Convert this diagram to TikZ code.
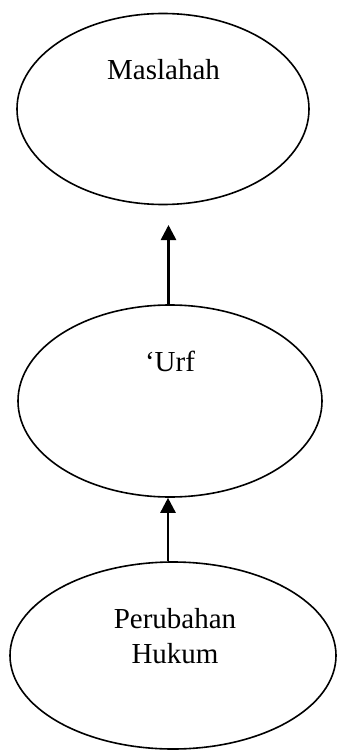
\documentclass[tikz,border=0pt]{standalone}
\usepackage{fontspec}
\setmainfont{Liberation Serif}
\usetikzlibrary{shapes.geometric,arrows.meta}
\begin{document}
\begin{tikzpicture}[x=1pt,y=-1pt,
  oval/.style={draw=black,line width=1.6pt,ellipse,inner sep=0pt},
  lbl/.style={inner sep=0pt,font=\fontsize{29}{35}\selectfont,align=center},
  arr/.style={draw=black,line width=2.6pt,-{Triangle[width=15pt,length=15pt]}}]
\useasboundingbox (0,0) rectangle (337,751);
\node[oval,minimum width=292pt,minimum height=191pt] (top) at (163,109) {};
\node[oval,minimum width=304pt,minimum height=192pt] (mid) at (170,401) {};
\node[oval,minimum width=326pt,minimum height=187pt] (bot) at (173,655.5) {};
\node[lbl,anchor=base] (tt) at (163.5,80) {Maslahah};
\node[lbl,anchor=base] (mt) at (170,371) {`Urf};
\node[lbl,anchor=center] (bt) at (175,635.6) {Perubahan\\Hukum};
\coordinate (a1) at (168.5,225);
\coordinate (a2) at (168,0);
\draw[arr] (a1 |- mid.north) -- (a1);
\draw[arr] (a2 |- bot.north) -- (a2 |- mid.south);
\end{tikzpicture}
\end{document}
